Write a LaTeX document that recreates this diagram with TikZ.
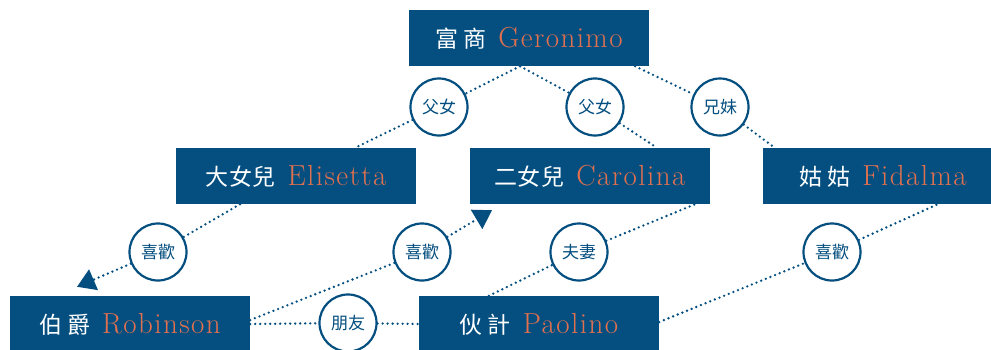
\documentclass[tikz,border=0pt]{standalone}
\usepackage{fontspec}
\usepackage{xcolor}
\usepackage{tikz}
\usetikzlibrary{arrows.meta,positioning}

\newfontfamily\cjkname[LetterSpace=2]{Noto Sans CJK TC}
\newfontfamily\cjktag{Noto Sans CJK TC}
\newfontfamily\engname{lmroman17-regular.otf}[LetterSpace=5]
\definecolor{navy}{HTML}{044F80}
\definecolor{coral}{HTML}{E2704F}
\newcommand{\who}[2]{{\cjkname\fontsize{23}{26}\selectfont\color{white}#1}\hspace{12pt}{\engname\color{coral}#2}}

\begin{document}
\begin{tikzpicture}[x=1pt, y=-1pt,
  person/.style={fill=navy, minimum width=240pt, minimum height=56pt, inner sep=0pt,
    font=\fontsize{29}{32}\selectfont},
  tag/.style={circle, draw=navy, line width=2.2pt, fill=white, minimum size=57pt,
    inner sep=0pt, text=navy, font=\cjktag\fontsize{17}{19}\selectfont},
  link/.style={navy, line width=2.6pt, line cap=round, dash pattern=on 0pt off 5pt},
  tip/.style={-{Triangle[length=18pt, width=22pt]}}]

\useasboundingbox (0,0) rectangle (991,349);

% people
\node[person] (ger) at (529,38) {\who{富\hspace{5pt}商}{Geronimo}};
\node[person] (eli) at (296,176) {\who{大女兒}{Elisetta}};
\node[person] (car) at (590,176) {\who{二女兒}{Carolina}};
\node[person] (fid) at (883,176) {\who{姑\hspace{5pt}姑}{Fidalma}};
\node[person] (rob) at (130,324) {\who{伯\hspace{5pt}爵}{Robinson}};
\node[person] (pao) at (539,324) {\who{伙\hspace{5pt}計}{Paolino}};

% relations
\node[tag] (fa1) at (439,107) {父女};
\node[tag] (fa2) at (595,107) {父女};
\node[tag] (sib) at (720,107) {兄妹};
\node[tag] (like1) at (158,252) {喜歡};
\node[tag] (like2) at (422,252) {喜歡};
\node[tag] (wed) at (579,252) {夫妻};
\node[tag] (like3) at (832,252) {喜歡};
\node[tag] (pal) at (348,323) {朋友};

% connectors
\draw[link] ([xshift=-9pt]ger.south) -- (fa1) -- ([xshift=59pt]eli.north);
\draw[link] ([xshift=-9pt]ger.south) -- (fa2) -- ([xshift=67pt]car.north);
\draw[link] ([xshift=106pt]ger.south) -- (sib) -- ([xshift=12pt]fid.north west);
\draw[link, tip] ([xshift=-56pt]eli.south) -- (like1) -- ([xshift=-53pt, yshift=9pt]rob.north);
\draw[link, tip] ([yshift=4pt]rob.east) -- (like2) -- ([xshift=-98pt, yshift=-6pt]car.south);
\draw[link] ([xshift=70pt]pao.north west) -- (wed) -- ([xshift=-15pt]car.south east);
\draw[link] ([yshift=2pt]pao.east) -- (like3) -- ([xshift=175pt]fid.south west);
\draw[link] (rob.east) -- (pal) -- (pao.west);

\end{tikzpicture}
\end{document}
